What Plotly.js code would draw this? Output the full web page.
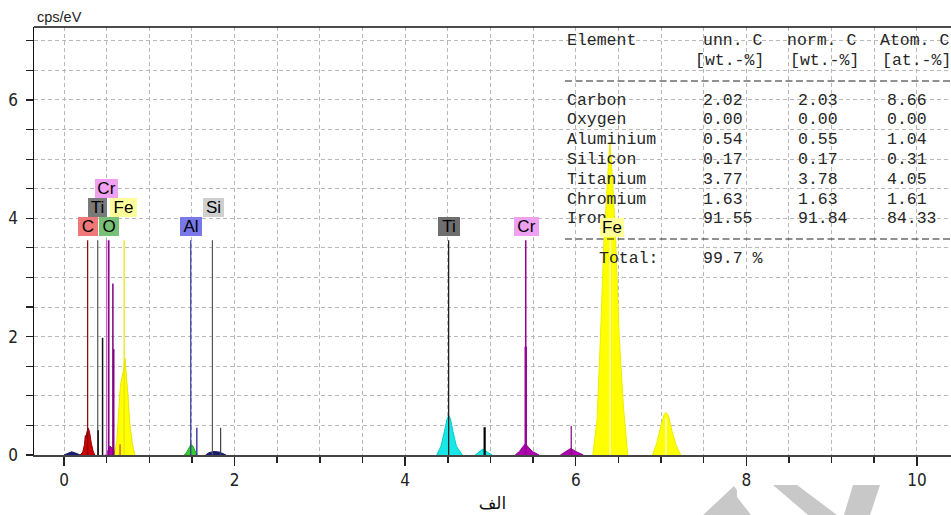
<!DOCTYPE html>
<html><head><meta charset="utf-8">
<script src="https://cdn.plot.ly/plotly-3.0.1.min.js"></script>
<style>html,body{margin:0;padding:0;background:#fff;overflow:hidden}#chart{width:951px;height:515px}</style>
</head><body><div id="chart"></div>
<script>
// ---- spectrum peaks (energy in keV, intensity in cps/eV) ----
const bgX   = [0.00, 0.05, 0.09, 0.14, 0.19];
const bgY   = [0, 0.03, 0.055, 0.03, 0];
const cX    = [0.19, 0.22, 0.24, 0.25, 0.26, 0.27, 0.285, 0.30, 0.32, 0.34, 0.36];
const cY    = [0, 0.05, 0.18, 0.33, 0.30, 0.40, 0.45, 0.38, 0.20, 0.07, 0];
const crLX  = [0.49, 0.52, 0.54, 0.56, 0.59, 0.62];
const crLY  = [0, 0.08, 0.15, 0.12, 0.06, 0];
const feLX  = [0.59, 0.62, 0.64, 0.66, 0.68, 0.70, 0.715, 0.73, 0.75, 0.77, 0.80, 0.83];
const feLY  = [0, 0.25, 0.70, 1.15, 1.32, 1.45, 1.64, 1.40, 1.00, 0.55, 0.20, 0];
const alX   = [1.41, 1.44, 1.47, 1.49, 1.51, 1.54, 1.56];
const alY   = [0, 0.05, 0.13, 0.18, 0.15, 0.05, 0];
const siX   = [1.66, 1.70, 1.76, 1.82, 1.90];
const siY   = [0, 0.04, 0.06, 0.05, 0];
const tiKaX = [4.37, 4.42, 4.46, 4.49, 4.51, 4.53, 4.56, 4.60, 4.67];
const tiKaY = [0, 0.15, 0.40, 0.60, 0.67, 0.62, 0.40, 0.15, 0];
const tiKbX = [4.82, 4.87, 4.91, 4.96, 5.02];
const tiKbY = [0, 0.06, 0.10, 0.05, 0];
const crKaX = [5.29, 5.34, 5.38, 5.41, 5.44, 5.49, 5.57];
const crKaY = [0, 0.06, 0.14, 0.19, 0.14, 0.06, 0];
const crKbX = [5.82, 5.88, 5.94, 6.00, 6.09];
const crKbY = [0, 0.05, 0.11, 0.06, 0];
const feKaX = [6.20, 6.25, 6.29, 6.33, 6.37, 6.40, 6.43, 6.47, 6.51, 6.56, 6.61];
const feKaY = [0, 0.60, 2.00, 3.60, 4.60, 5.29, 4.70, 3.60, 2.00, 0.80, 0];
const feKbX = [6.90, 6.95, 7.00, 7.04, 7.06, 7.09, 7.13, 7.18, 7.23];
const feKbY = [0, 0.20, 0.50, 0.70, 0.72, 0.65, 0.40, 0.15, 0];

// ---- element marker lines ----
const lineE = [0.277, 0.395, 0.40, 0.452, 0.500, 0.525, 0.573, 0.583, 0.657, 0.705, 1.486, 1.557, 1.740, 1.836, 4.510, 4.932, 5.414, 5.414, 5.947, 6.404, 7.058];
const lineH = [3.63, 3.63, 0.42, 1.98, 3.63, 3.63, 2.90, 1.79, 0.18, 3.63, 3.63, 0.46, 3.63, 0.46, 3.63, 0.47, 3.63, 1.83, 0.49, 3.63, 0.62];

// ---- element labels ----
const labelText = ['C', 'O', 'Ti', 'Fe', 'Cr', 'Al', 'Si', 'Ti', 'Cr', 'Fe'];
const labelE    = [0.277, 0.525, 0.395, 0.705, 0.500, 1.486, 1.740, 4.510, 5.414, 6.404];

// ---- quantification table ----
const tableHead  = ['Element', 'unn. C', 'norm. C', 'Atom. C'];
const tableUnits = ['[wt.-%]', '[wt.-%]', '[at.-%]'];
const tableElement = ['Carbon', 'Oxygen', 'Aluminium', 'Silicon', 'Titanium', 'Chromium', 'Iron'];
const unnC  = ['2.02', '0.00', '0.54', '0.17', '3.77', '1.63', '91.55'];
const normC = ['2.03', '0.00', '0.55', '0.17', '3.78', '1.63', '91.84'];
const atomC = ['8.66', '0.00', '1.04', '0.31', '4.05', '1.61', '84.33'];
const totalLabel = 'Total:';
const totalUnn = '99.7 %';

// ---------------- styles / layout ----------------
const W = 951, H = 515, L = 34, T = 27, B = 60, R = 0;
const PW = W - L - R, PH = H - T - B;
const pX = px => (px - L) / PW;
const pY = py => (H - B - py) / PH;

const peakStyle = [
  [bgX, bgY, '#1a1a70', '#1a1a70'],
  [cX, cY, '#cc0000', '#8b0000'],
  [crLX, crLY, '#b000b0', '#800080'],
  [feLX, feLY, '#ffff00', '#e6e600'],
  [alX, alY, '#33cc33', '#22aa22'],
  [siX, siY, '#1a1a70', '#1a1a70'],
  [tiKaX, tiKaY, '#19e6e6', '#00cccc'],
  [tiKbX, tiKbY, '#19e6e6', '#00cccc'],
  [crKaX, crKaY, '#b000b0', '#900090'],
  [crKbX, crKbY, '#b000b0', '#900090'],
  [feKaX, feKaY, '#ffff00', '#eeee00'],
  [feKbX, feKbY, '#ffff00', '#eeee00']
];
const lineColor = ['#8b0000', '#555555', '#111111', '#111111', '#cc66cc', '#800080', '#800080', '#800080', '#c04040', '#e6e600', '#333399', '#4040a0', '#555555', '#444444', '#111111', '#000000', '#990099', '#990099', '#800080', '#ffffb0', '#ffffc8'];
const lineWidth = [1.2, 1.2, 1.5, 1.5, 1.5, 1.5, 1.5, 1.5, 1.2, 1.2, 1.2, 1.5, 1.2, 1.2, 1.2, 2.2, 1.5, 2.5, 1.2, 1.5, 1.5];
const labelRowY = [3.86, 3.86, 4.18, 4.18, 4.50, 3.86, 4.18, 3.86, 3.86, 3.84];
const labelW    = [20, 20, 19, 27, 23, 22, 21, 22, 25, 24];
const labelShift= [0, 0, 0, -1, 0, 0, 1, 0, 1, 2];
const labelBg   = ['#f07878', '#78c078', '#7a7a7a', '#ffff9a', '#f0a0f0', '#7878e8', '#cfcfcf', '#6e6e6e', '#f0a0f0', '#ffff9a'];

const traces = [];
peakStyle.forEach(p => traces.push({
  type: 'scatter', mode: 'lines', x: p[0], y: p[1], fill: 'tozeroy',
  fillcolor: p[2], line: {color: p[3], width: 1}, hoverinfo: 'skip', showlegend: false
}));
lineE.forEach((e, i) => traces.push({
  type: 'scatter', mode: 'lines', x: [e, e], y: [0, lineH[i]],
  line: {color: lineColor[i], width: lineWidth[i]}, hoverinfo: 'skip', showlegend: false
}));

const ann = [];
const mono = {family: 'Liberation Mono, Courier New, monospace', size: 16.5, color: '#262626'};
function txt(text, x, y) {
  ann.push({text: text, xref: 'paper', yref: 'paper', x: pX(x), y: pY(y), xanchor: 'left', yanchor: 'middle', showarrow: false, font: mono});
}
const rowY0 = 100, rowDY = 19.8;
txt(tableHead[0], 565, 41);
txt(tableHead[1], 701, 41);
txt(tableHead[2], 785, 41);
txt(tableHead[3], 878, 41);
txt(tableUnits[0], 693, 60.5);
txt(tableUnits[1], 788, 60.5);
txt(tableUnits[2], 880, 60.5);
tableElement.forEach((el, i) => {
  const y = rowY0 + i * rowDY;
  txt(el, 565, y);
  txt(unnC[i], 701, y);
  txt(normC[i], 796, y);
  txt(atomC[i], 885, y);
});
txt(totalLabel, 597, 258);
txt(totalUnn, 701, 258);

labelText.forEach((t, i) => ann.push({
  text: t, x: labelE[i], y: labelRowY[i], xref: 'x', yref: 'y', xanchor: 'center', yanchor: 'middle',
  xshift: labelShift[i], showarrow: false, width: labelW[i], height: 19, bgcolor: labelBg[i],
  borderwidth: 0, borderpad: 0, font: {family: 'Liberation Sans, Arial, sans-serif', size: 17, color: '#000'}
}));

ann.push({text: 'cps/eV', xref: 'paper', yref: 'paper', x: pX(35), y: pY(17), xanchor: 'left', yanchor: 'middle',
  showarrow: false, font: {family: 'Liberation Sans, Arial, sans-serif', size: 14.5, color: '#222'}});

function path(pts) {
  return 'M ' + pts.map(p => pX(p[0]).toFixed(4) + ',' + pY(p[1]).toFixed(4)).join(' L ') + ' Z';
}
const wm = '#c8c8c8';
const shapes = [
  {type: 'line', xref: 'paper', yref: 'paper', x0: 0, x1: 1, y0: 1, y1: 1, line: {color: '#111', width: 1.5}},
  {type: 'line', xref: 'paper', yref: 'paper', x0: pX(565), x1: 1, y0: pY(81), y1: pY(81), line: {color: '#222', width: 1, dash: '7px,3.5px'}},
  {type: 'line', xref: 'paper', yref: 'paper', x0: pX(565), x1: 1, y0: pY(239), y1: pY(239), line: {color: '#222', width: 1, dash: '7px,3.5px'}},
  {type: 'path', xref: 'paper', yref: 'paper', path: path([[703, 515], [734, 486], [737, 490], [737, 497], [751, 515]]), fillcolor: wm, line: {width: 0}},
  {type: 'path', xref: 'paper', yref: 'paper', path: path([[773, 485], [797, 485], [837, 515], [808, 515]]), fillcolor: wm, line: {width: 0}},
  {type: 'path', xref: 'paper', yref: 'paper', path: path([[853, 485], [880, 485], [870, 515], [844, 515]]), fillcolor: wm, line: {width: 0}}
];

const tickFont = {family: 'Liberation Sans Narrow, Arial Narrow, DejaVu Sans Condensed, sans-serif', size: 17, color: '#222'};
const layout = {
  width: W, height: H,
  margin: {l: L, r: R, t: T, b: B, pad: 0},
  paper_bgcolor: '#fff', plot_bgcolor: '#fff',
  showlegend: false,
  xaxis: {
    range: [-0.352, 10.40], dtick: 2, tick0: 0, ticks: 'outside', ticklen: 9, tickwidth: 1.5, tickcolor: '#222',
    showline: true, linecolor: '#444', linewidth: 2, zeroline: false,
    showgrid: true, gridcolor: '#b8b8b8', griddash: '4px,3px', gridwidth: 1,
    minor: {dtick: 0.5, ticks: 'outside', ticklen: 6, tickcolor: '#222', showgrid: true, gridcolor: '#b8b8b8', griddash: '4px,3px'},
    tickfont: tickFont,
    title: {text: 'الف', font: {family: 'DejaVu Sans, Noto Sans, sans-serif', size: 17, color: '#111'}, standoff: 8}
  },
  yaxis: {
    range: [0, 7.233], dtick: 2, tick0: 0, ticks: 'outside', ticklen: 7, tickwidth: 1.2, tickcolor: '#222',
    showline: true, linecolor: '#111', linewidth: 1.5, zeroline: false, ticklabelstandoff: 4,
    showgrid: true, gridcolor: '#b8b8b8', griddash: '4px,3px', gridwidth: 1,
    minor: {dtick: 0.5, ticks: 'outside', ticklen: 7, tickcolor: '#222', showgrid: true, gridcolor: '#b8b8b8', griddash: '4px,3px'},
    tickfont: tickFont
  },
  annotations: ann,
  shapes: shapes
};
Plotly.newPlot('chart', traces, layout, {displayModeBar: false, staticPlot: true});
</script></body></html>
